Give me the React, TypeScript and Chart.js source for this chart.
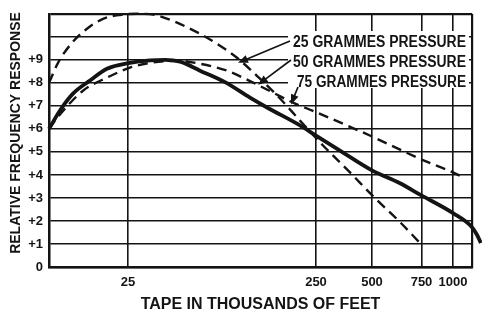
import { useEffect, useRef } from 'react';
import { Chart, registerables } from 'chart.js';

Chart.register(...registerables);

// ---------- data (x in axis-position units 0..100, as drawn on the original non-uniform tape scale) ----------
const xTickPositions = [0, 18.68, 63.12, 76.36, 88.06, 95.51, 100];
const xTickLabels = ['', '25', '250', '500', '750', '1000', ''];
const yTickLabels = ['0', '+1', '+2', '+3', '+4', '+5', '+6', '+7', '+8', '+9', '', ''];
const yTitle = 'RELATIVE FREQUENCY RESPONSE';
const xTitle = 'TAPE IN THOUSANDS OF FEET';

const seriesNames = ['25 GRAMMES PRESSURE', '50 GRAMMES PRESSURE', '75 GRAMMES PRESSURE'];

const pressure25X = [0, 2.13, 5.44, 8.98, 12.77, 16.78, 20.8, 25.06, 29.31, 35.7, 40.43, 44.44, 49.88, 54.61, 59.34, 64.78, 71.16, 76.36, 82.98, 87.71];
const pressure25Y = [8.0, 8.87, 9.74, 10.35, 10.78, 10.95, 11.0, 10.95, 10.69, 10.13, 9.61, 9.09, 8.18, 7.32, 6.36, 5.28, 4.11, 3.12, 1.95, 1.04];

const pressure50X = [0, 2.6, 5.67, 9.69, 13.71, 19.15, 23.88, 27.42, 30.97, 35.7, 41.6, 47.52, 51.54, 59.34, 63.12, 68.79, 76.36, 82.98, 87.94, 95.51, 100, 101.2, 102.1];
const pressure50Y = [6.0, 6.8, 7.53, 8.1, 8.61, 8.87, 8.98, 9.0, 8.92, 8.53, 8.03, 7.36, 6.93, 6.15, 5.71, 5.06, 4.2, 3.64, 3.12, 2.34, 1.73, 1.39, 1.04];

const pressure75X = [0, 1.42, 3.78, 8.04, 13.71, 19.15, 23.88, 30.5, 35.7, 42.08, 46.81, 53.43, 57.68, 63.36, 70.45, 76.36, 87.94, 95.51, 98.35];
const pressure75Y = [6.0, 6.36, 6.88, 7.66, 8.23, 8.66, 8.87, 8.96, 8.83, 8.53, 8.14, 7.53, 7.14, 6.71, 6.15, 5.67, 4.68, 4.11, 3.85];

// where each label's arrow points (data units)
const arrowTipX = [44.68, 49.41, 57.21];
const arrowTipY = [8.87, 7.92, 7.06];

// ---------- styling ----------
const INK = '#141414';
const FONT = "'Liberation Sans', Arial, sans-serif";
const LABEL_ROWS = [
  { left: 293, right: 466, y: 42, startX: 290, startY: 41 },
  { left: 293, right: 466, y: 62, startX: 291, startY: 60 },
  { left: 297, right: 466, y: 82, startX: 298, startY: 87 },
];

const toPoints = (xs: number[], ys: number[]) => xs.map((x, i) => ({ x, y: ys[i] }));

const labelsPlugin = {
  id: 'pressureLabels',
  afterDatasetsDraw(chart: any) {
    const ctx = chart.ctx as CanvasRenderingContext2D;
    const xs = chart.scales.x;
    const ys = chart.scales.y;
    ctx.save();

    // vertical axis title
    ctx.save();
    ctx.translate(16, 133);
    ctx.rotate(-Math.PI / 2);
    ctx.font = `bold 14px ${FONT}`;
    ctx.textAlign = 'center';
    ctx.textBaseline = 'middle';
    ctx.fillStyle = INK;
    ctx.fillText(yTitle, 0, 0);
    ctx.restore();

    ctx.fillStyle = '#fff';
    ctx.fillRect(288, 31, 181, 57);
    ctx.font = `bold 16px ${FONT}`;
    ctx.textBaseline = 'middle';
    ctx.textAlign = 'left';
    seriesNames.forEach((name, i) => {
      const r = LABEL_ROWS[i];
      const w = ctx.measureText(name).width;
      ctx.save();
      ctx.translate(r.left, r.y);
      ctx.scale((r.right - r.left) / w, 1);
      ctx.fillStyle = INK;
      ctx.fillText(name, 0, 1);
      ctx.restore();

      const tx = xs.getPixelForValue(arrowTipX[i]);
      const ty = ys.getPixelForValue(arrowTipY[i]);
      const ang = Math.atan2(ty - r.startY, tx - r.startX);
      ctx.strokeStyle = INK;
      ctx.lineWidth = 1.7;
      ctx.beginPath();
      ctx.moveTo(r.startX, r.startY);
      ctx.lineTo(tx - Math.cos(ang) * 6, ty - Math.sin(ang) * 6);
      ctx.stroke();
      const len = 10;
      const hw = 4;
      const bx = tx - Math.cos(ang) * len;
      const by = ty - Math.sin(ang) * len;
      ctx.fillStyle = INK;
      ctx.beginPath();
      ctx.moveTo(tx, ty);
      ctx.lineTo(bx + Math.sin(ang) * hw, by - Math.cos(ang) * hw);
      ctx.lineTo(bx - Math.sin(ang) * hw, by + Math.cos(ang) * hw);
      ctx.closePath();
      ctx.fill();
    });
    ctx.restore();
  },
};

export default function App() {
  const canvasRef = useRef<HTMLCanvasElement | null>(null);

  useEffect(() => {
    const canvas = canvasRef.current;
    if (!canvas) return;
    const common = {
      pointRadius: 0,
      fill: false,
      cubicInterpolationMode: 'monotone' as const,
      borderColor: INK,
      clip: false as any,
    };
    const chart = new Chart(canvas, {
      type: 'line',
      data: {
        datasets: [
          { ...common, label: seriesNames[0], data: toPoints(pressure25X, pressure25Y), borderWidth: 2.4, borderDash: [10, 6] },
          { ...common, label: seriesNames[2], data: toPoints(pressure75X, pressure75Y), borderWidth: 2.4, borderDash: [10, 6] },
          { ...common, label: seriesNames[1], data: toPoints(pressure50X, pressure50Y), borderWidth: 3.8 },
        ],
      },
      options: {
        animation: false,
        responsive: false,
        devicePixelRatio: 1,
        layout: { padding: { top: 13, right: 10, left: 0, bottom: 0 } },
        plugins: { legend: { display: false }, tooltip: { enabled: false } },
        scales: {
          x: {
            type: 'linear',
            afterDataLimits: (scale: any) => {
              scale.min = 0;
              scale.max = 100;
            },
            afterBuildTicks: (scale: any) => {
              scale.ticks = xTickPositions.map((v) => ({ value: v }));
            },
            afterFit: (scale: any) => {
              scale.height = 54;
            },
            ticks: {
              autoSkip: false,
              maxRotation: 0,
              padding: 8,
              color: INK,
              font: { family: FONT, size: 13, weight: 'bold' },
              callback: (_v: any, i: number) => xTickLabels[i],
            },
            grid: {
              color: INK,
              drawTicks: false,
              lineWidth: (c: any) => (c.index === 0 || c.index === xTickPositions.length - 1 ? 2.2 : 1.6),
            },
            border: { display: true, color: INK, width: 2.4 },
            title: {
              display: true,
              text: xTitle,
              color: INK,
              font: { family: FONT, size: 16, weight: 'bold' },
              padding: { top: 0, bottom: 7 },
            },
          },
          y: {
            type: 'linear',
            min: 0,
            max: 11,
            afterFit: (scale: any) => {
              scale.width = 49;
            },
            ticks: {
              stepSize: 1,
              padding: 6,
              color: INK,
              font: { family: FONT, size: 13, weight: 'bold' },
              callback: (v: any) => yTickLabels[Math.round(Number(v))] ?? '',
            },
            grid: {
              color: INK,
              drawTicks: false,
              lineWidth: (c: any) => (c.tick && (c.tick.value === 11 || c.tick.value === 0) ? 2.2 : 1.6),
            },
            border: { display: true, color: INK, width: 2.4 },
            title: { display: false },
          },
        },
      },
      plugins: [labelsPlugin],
    } as any);
    return () => chart.destroy();
  }, []);

  return (
    <div style={{ position: 'fixed', left: 0, top: 0, width: 482, height: 321, background: '#fff' }}>
      <canvas ref={canvasRef} width={482} height={321} style={{ display: 'block' }} />
    </div>
  );
}
